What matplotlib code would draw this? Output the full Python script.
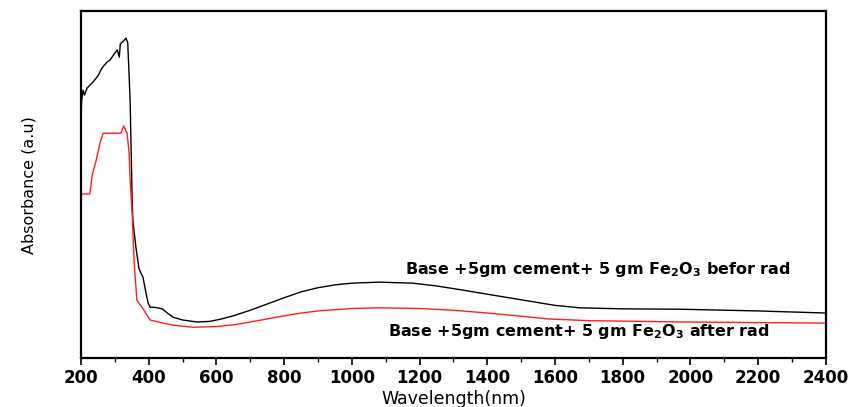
import matplotlib
matplotlib.use("Agg")
import matplotlib.pyplot as plt
from matplotlib.ticker import MultipleLocator, NullLocator

plt.rcParams["mathtext.fontset"] = "custom"
plt.rcParams["mathtext.bf"] = "DejaVu Sans:bold"

# wavelength (nm) / absorbance (a.u.)
wl_before = [200, 202, 206, 210, 218, 235, 250, 262, 277, 286, 300, 307, 313, 316,
             322, 328, 333, 338, 345, 351, 353, 362, 371, 377, 383, 392, 398, 404,
             420, 440, 455, 472, 500, 543, 580, 611, 650, 700, 750, 800, 850, 900,
             950, 1000, 1080, 1180, 1250, 1328, 1420, 1526, 1600, 1674, 1800, 1969,
             2200, 2400]
abs_before = [0.709, 0.744, 0.772, 0.758, 0.778, 0.795, 0.813, 0.836, 0.853, 0.859,
              0.879, 0.888, 0.867, 0.905, 0.911, 0.916, 0.922, 0.908, 0.744, 0.455,
              0.398, 0.320, 0.259, 0.245, 0.233, 0.187, 0.160, 0.147,
              0.146, 0.142, 0.130, 0.118, 0.110, 0.104, 0.106, 0.112, 0.122, 0.138,
              0.156, 0.174, 0.191, 0.203, 0.211, 0.216, 0.219, 0.216, 0.208, 0.196,
              0.181, 0.164, 0.152, 0.145, 0.142, 0.141, 0.136, 0.130]

wl_after = [200, 226, 233, 245, 256, 265, 280, 300, 318, 326, 336, 342, 345, 351,
            357, 365, 380, 404, 442, 472, 531, 600, 650, 700, 750, 800, 850, 900,
            1000, 1083, 1200, 1300, 1400, 1500, 1580, 1700, 1775, 2000, 2400]
abs_after = [0.473, 0.473, 0.527, 0.571, 0.620, 0.648, 0.648, 0.648, 0.648, 0.669,
             0.648, 0.591, 0.513, 0.418, 0.274, 0.167, 0.147, 0.110, 0.101, 0.095,
             0.089, 0.091, 0.096, 0.104, 0.113, 0.122, 0.130, 0.136, 0.143, 0.145,
             0.143, 0.138, 0.130, 0.121, 0.113, 0.108, 0.107, 0.104, 0.101]

label_before = r"Base +5gm cement+ 5 gm Fe$_\mathbf{2}$O$_\mathbf{3}$ befor rad"
label_after = r"Base +5gm cement+ 5 gm Fe$_\mathbf{2}$O$_\mathbf{3}$ after rad"

fig = plt.figure(figsize=(8.62, 4.07), dpi=100)
ax = fig.add_axes([0.094, 0.120, 0.864, 0.853])

ax.plot(wl_before, abs_before, color="black", lw=1.0)
ax.plot(wl_after, abs_after, color="#ff2020", lw=1.0)

ax.text(1157, 0.256, label_before, fontsize=11.5, fontweight="bold",
        ha="left", va="center")
ax.text(1107, 0.078, label_after, fontsize=11.5, fontweight="bold",
        ha="left", va="center")

ax.set_xlim(200, 2400)
ax.set_ylim(0, 1)
ax.xaxis.set_major_locator(MultipleLocator(200))
ax.xaxis.set_minor_locator(MultipleLocator(100))
ax.yaxis.set_major_locator(NullLocator())
ax.tick_params(axis="x", which="major", direction="out", length=5, width=1.2,
               labelsize=12, pad=3)
ax.tick_params(axis="x", which="minor", direction="out", length=3, width=1.0)
for lab in ax.get_xticklabels():
    lab.set_fontweight("bold")
for sp in ax.spines.values():
    sp.set_linewidth(1.6)

ax.set_xlabel("Wavelength(nm)", fontsize=12.5, labelpad=2)
ax.set_ylabel("Absorbance (a.u)", fontsize=11.5, labelpad=32)

fig.savefig("out.png", dpi=100)
